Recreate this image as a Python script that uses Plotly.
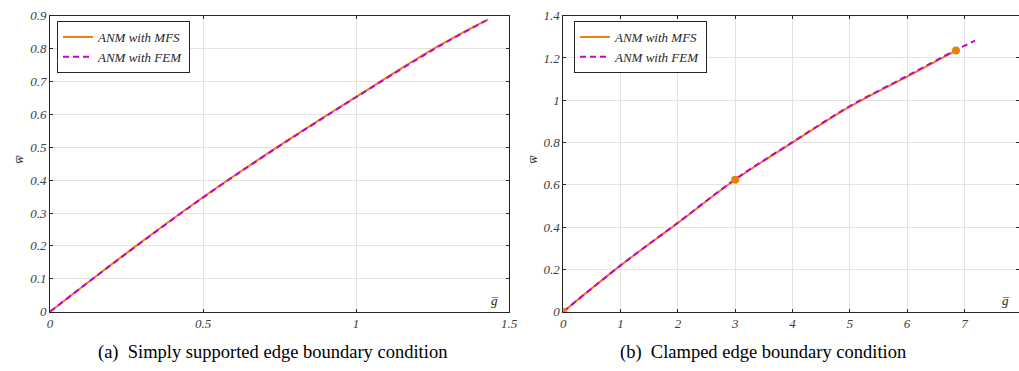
import plotly.graph_objects as go

# ---- data ----
ss_g_mfs = [0, 0.1415, 0.3, 0.5, 0.719, 1.0, 1.264, 1.432]
ss_w_mfs = [0, 0.1015, 0.213, 0.348, 0.486, 0.653, 0.805, 0.889]
ss_g_fem = [0, 0.1415, 0.3, 0.5, 0.719, 1.0, 1.264, 1.425]
ss_w_fem = [0, 0.1012, 0.212, 0.347, 0.485, 0.652, 0.803, 0.885]

cl_g_mfs = [0, 1, 2, 3, 4, 5, 6, 6.853]
cl_w_mfs = [0, 0.219, 0.42, 0.624, 0.80, 0.97, 1.112, 1.235]
cl_g_fem = [0, 1, 2, 3, 4, 5, 6, 6.853, 7.185]
cl_w_fem = [0, 0.219, 0.421, 0.626, 0.802, 0.972, 1.115, 1.238, 1.282]
cl_g_pts = [0, 3, 6.853]
cl_w_pts = [0, 0.624, 1.235]

ss_xticks = [0, 0.5, 1, 1.5]
ss_yticks = [0, 0.1, 0.2, 0.3, 0.4, 0.5, 0.6, 0.7, 0.8, 0.9]
cl_xticks = [0, 1, 2, 3, 4, 5, 6, 7, 8]
cl_yticks = [0, 0.2, 0.4, 0.6, 0.8, 1, 1.2, 1.4]

names = ["ANM with MFS", "ANM with FEM"]
captions = ["(a)  Simply supported edge boundary condition",
            "(b)  Clamped edge boundary condition"]

ORANGE = "#e5820e"
MAGENTA = "#cc00cc"
SERIF = "'Liberation Serif', 'Times New Roman', 'DejaVu Serif', serif"

W, H = 1019, 371
fig = go.Figure()

fig.add_trace(go.Scatter(x=ss_g_mfs, y=ss_w_mfs, mode="lines", name=names[0],
                         line=dict(color=ORANGE, width=2, shape="spline"), xaxis="x", yaxis="y",
                         legend="legend"))
fig.add_trace(go.Scatter(x=ss_g_fem, y=ss_w_fem, mode="lines", name=names[1],
                         line=dict(color=MAGENTA, width=2, dash="6px,4px", shape="spline"),
                         xaxis="x", yaxis="y", legend="legend"))

fig.add_trace(go.Scatter(x=cl_g_mfs, y=cl_w_mfs, mode="lines", name=names[0],
                         line=dict(color=ORANGE, width=2, shape="spline"), xaxis="x2", yaxis="y2",
                         legend="legend2"))
fig.add_trace(go.Scatter(x=cl_g_fem, y=cl_w_fem, mode="lines", name=names[1],
                         line=dict(color=MAGENTA, width=2, dash="6px,4px", shape="spline"),
                         xaxis="x2", yaxis="y2", legend="legend2"))
fig.add_trace(go.Scatter(x=cl_g_pts, y=cl_w_pts, mode="markers", showlegend=False,
                         marker=dict(color=ORANGE, size=8), xaxis="x2", yaxis="y2"))

ydom = [(H - 311.7) / H, (H - 15.7) / H]
axis_common = dict(showline=True, linecolor="#262626", linewidth=1, mirror="allticks",
                   ticks="inside", ticklen=3, tickcolor="#262626", automargin=False,
                   showgrid=True, gridcolor="#e3e3e3", gridwidth=1, zeroline=False,
                   tickfont=dict(family=SERIF, size=13, color="#404040", style="italic"))

legend_common = dict(bgcolor="white", bordercolor="#262626", borderwidth=1,
                     font=dict(family=SERIF, size=13, color="#262626", style="italic"),
                     xanchor="left", yanchor="top", tracegroupgap=0, itemwidth=30)

fig.update_layout(
    width=W, height=H, margin=dict(l=0, r=0, t=0, b=0, autoexpand=False),
    paper_bgcolor="white", plot_bgcolor="white",
    font=dict(family=SERIF),
    xaxis=dict(domain=[50 / W, 509 / W], range=[0, 1.5], tickvals=ss_xticks,
               ticktext=[str(v) for v in ss_xticks], anchor="y", **axis_common),
    yaxis=dict(domain=ydom, range=[0, 0.9], tickvals=ss_yticks,
               ticktext=[str(v) for v in ss_yticks], anchor="x", **axis_common),
    xaxis2=dict(domain=[563.3 / W, 1.0], range=[0, (W - 563.3) / 57.3],
                tickvals=cl_xticks, ticktext=[str(v) for v in cl_xticks],
                anchor="y2", **axis_common),
    yaxis2=dict(domain=ydom, range=[0, 1.4], tickvals=cl_yticks,
                ticktext=[str(v) for v in cl_yticks], anchor="x2", **axis_common),
    legend=dict(x=57 / W, y=(H - 21) / H, **legend_common),
    legend2=dict(x=574 / W, y=(H - 21) / H, **legend_common),
    showlegend=True,
)

annots = [
    dict(x=18 / W, y=(H - 160) / H, text="w\u0305", textangle=-90),
    dict(x=532 / W, y=(H - 160) / H, text="w\u0305", textangle=-90),
    dict(x=494 / W, y=(H - 300) / H, text="g\u0305", textangle=0),
    dict(x=1005 / W, y=(H - 300) / H, text="g\u0305", textangle=0),
]
for a in annots:
    fig.add_annotation(xref="paper", yref="paper", showarrow=False,
                       font=dict(family=SERIF, size=13, color="#262626", style="italic"),
                       xanchor="center", yanchor="middle", **a)

for cx, txt in zip([272, 763], captions):
    fig.add_annotation(xref="paper", yref="paper", x=cx / W, y=(H - 352) / H,
                       text=txt, showarrow=False, xanchor="center", yanchor="middle",
                       font=dict(family=SERIF, size=18.5, color="black"))

fig.write_html("out.html", config={"displayModeBar": False},
               post_script="document.body.style.margin='0';document.body.style.overflow='hidden';")
